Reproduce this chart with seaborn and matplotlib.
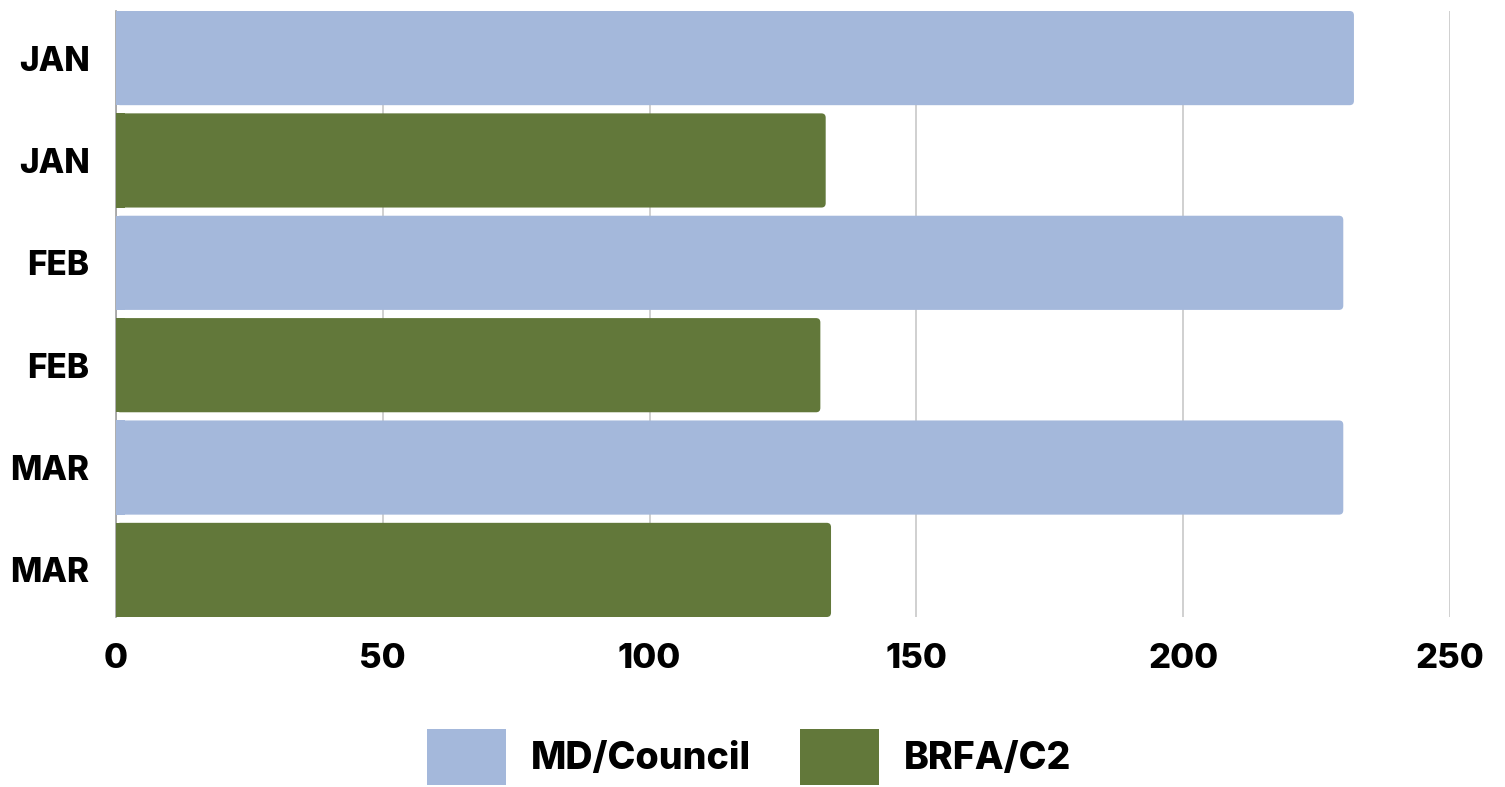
import matplotlib
matplotlib.use("Agg")
import matplotlib.pyplot as plt
import seaborn as sns
import pandas as pd
from matplotlib.patches import FancyBboxPatch, Patch

# valores
meses = ["JAN", "JAN", "FEB", "FEB", "MAR", "MAR"]
series = ["MD/Council", "BRFA/C2", "MD/Council", "BRFA/C2", "MD/Council", "BRFA/C2"]
valores = [232, 133, 230, 132, 230, 134]
cores = {"MD/Council": "#a4b8db", "BRFA/C2": "#62783a"}
ticks_x = [0, 50, 100, 150, 200, 250]

df = pd.DataFrame({"mes": meses, "serie": series, "valor": valores})
df["chave"] = [f"{m}_{i}" for i, m in enumerate(meses)]

sns.set_style("white")
plt.rcParams["font.family"] = ["Inter", "DejaVu Sans"]
plt.rcParams["text.color"] = "black"
plt.rcParams["xtick.color"] = "black"
plt.rcParams["ytick.color"] = "black"

fig = plt.figure(figsize=(15.05, 7.87), dpi=100)
ax = fig.add_axes([116 / 1505, 1 - 617 / 787, (1450 - 116) / 1505, (617 - 11) / 787])

larg = 0.92
sns.barplot(data=df, x="valor", y="chave", hue="serie", palette=cores, saturation=1,
            dodge=False, width=larg, legend=False, ax=ax, zorder=3)

# troca as barras por retangulos com cantos arredondados
for patch in list(ax.patches):
    x0, y0 = patch.get_x(), patch.get_y()
    w, h = patch.get_width(), patch.get_height()
    cor = patch.get_facecolor()
    patch.remove()
    if w <= 0:
        continue
    r = 0.8
    aspect = 5.336 / 101
    ax.add_patch(FancyBboxPatch((x0, y0), w, h,
                                boxstyle=f"round,pad=0,rounding_size={r}",
                                mutation_aspect=aspect, facecolor=cor,
                                edgecolor="none", zorder=3))
    # canto esquerdo reto
    ax.add_patch(plt.Rectangle((x0, y0), r * 2, h, facecolor=cor,
                               edgecolor="none", zorder=3))

ax.set_xlim(0, 250)
ax.set_ylim(len(meses) - 1 + larg / 2, -larg / 2)
ax.set_xticks(ticks_x)
ax.set_yticks(range(len(meses)))
ax.set_yticklabels(meses)
ax.set_xlabel("")
ax.set_ylabel("")
ax.grid(axis="x", color="#c8c8c8", linewidth=1.2, zorder=0)
ax.grid(axis="y", visible=False)
for s in ["top", "right", "bottom"]:
    ax.spines[s].set_visible(False)
ax.spines["left"].set_color("#a0a0a0")
ax.spines["left"].set_linewidth(1.2)
ax.tick_params(axis="y", length=0, labelsize=24, pad=19)
ax.tick_params(axis="x", length=0, labelsize=25, pad=19)
for lb in ax.get_xticklabels() + ax.get_yticklabels():
    lb.set_fontweight("heavy")

handles = [Patch(facecolor=cores[k], edgecolor="none") for k in ["MD/Council", "BRFA/C2"]]
fig.legend(handles, ["MD/Council", "BRFA/C2"], loc="center", bbox_to_anchor=(0.498, 0.038),
           ncol=2, frameon=False, prop={"size": 27, "weight": "heavy"},
           handlelength=2.1, handleheight=1.9, handletextpad=0.67, columnspacing=1.3)

fig.savefig("out.png", dpi=100)
